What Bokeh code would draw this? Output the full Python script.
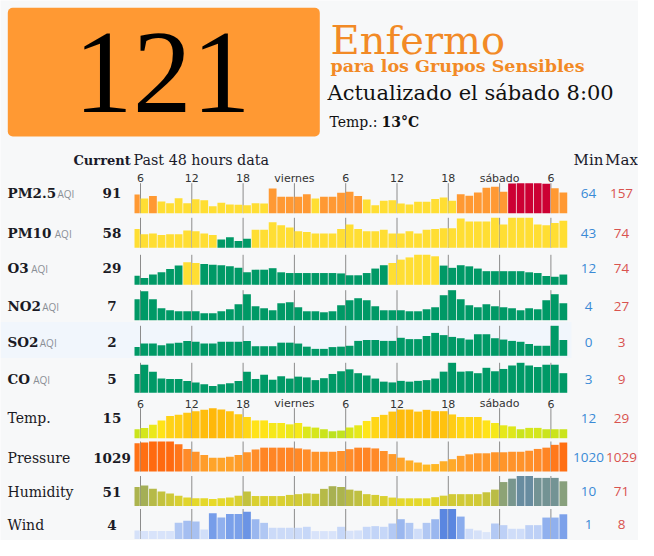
import numpy as np
from bokeh.plotting import figure
from bokeh.models import Range1d
from bokeh.core.properties import value
from bokeh.embed import file_html
from bokeh.resources import INLINE

# ---------------- data ----------------
hours = list(range(5, 56))   # hours since Thursday 00:00; last bar = Saturday 07:00-08:00
tick_hours = [6, 12, 18, 24, 30, 36, 42, 48, 54]
tick_labels = ["6", "12", "18", "viernes", "6", "12", "18", "sábado", "6"]

aqi_now = "121"
status = "Enfermo"
status_sub = "para los Grupos Sensibles"
updated = "Actualizado el sábado 8:00"
temp_label = "Temp.:"
temp_now = "13°C"

row_names = ["PM2.5", "PM10", "O3", "NO2", "SO2", "CO", "Temp.", "Pressure", "Humidity", "Wind"]
row_is_aqi = [True, True, True, True, True, True, False, False, False, False]
current_vals = ["91", "58", "29", "7", "2", "5", "15", "1029", "51", "4"]
min_vals = ["64", "43", "12", "4", "0", "3", "12", "1020", "10", "1"]
max_vals = ["157", "74", "74", "27", "3", "9", "29", "1029", "71", "8"]

pm25 = [111, 95, 105, 83, 76, 96, 76, 92, 88, 64,
        78, 71, 70, 68, 76, 75, 136, 102, 102, 102,
        112, 95, 102, 102, 119, 123, 105, 91, 68, 86,
        88, 75, 71, 82, 82, 93, 99, 86, 112, 106,
        120, 139, 143, 123, 156, 157, 157, 157, 155, 137,
        120]
pm10 = [59, 52, 53, 51, 52, 52, 57, 56, 53, 51,
        45, 48, 43, 46, 58, 58, 68, 64, 61, 56,
        55, 53, 53, 53, 59, 65, 59, 56, 56, 58,
        53, 53, 56, 53, 58, 59, 60, 60, 73, 69,
        69, 69, 74, 65, 74, 74, 74, 65, 64, 67,
        70]
o3 = [18, 12, 21, 27, 36, 45, 54, 52, 49, 47,
      46, 43, 39, 27, 34, 34, 38, 27, 25, 25,
      25, 25, 25, 25, 24, 19, 19, 25, 37, 46,
      52, 61, 67, 74, 74, 70, 45, 39, 46, 43,
      37, 30, 30, 30, 30, 30, 27, 25, 17, 15,
      21]
no2 = [18, 26, 18, 9, 7, 6, 6, 6, 4, 4,
       6, 8, 13, 23, 11, 9, 7, 14, 15, 10,
       6, 6, 5, 6, 12, 17, 19, 17, 11, 7,
       7, 7, 6, 6, 8, 10, 22, 27, 18, 12,
       10, 13, 11, 10, 9, 7, 9, 8, 17, 23,
       14]
so2 = [0.6, 1.0, 1.0, 0.8, 1.0, 1.1, 1.3, 1.2, 1.0, 1.0,
       1.2, 1.2, 1.2, 1.3, 0.7, 0.7, 0.7, 1.1, 1.1, 1.0,
       0.65, 0.4, 0.4, 0.6, 0.65, 0.75, 1.3, 1.4, 1.4, 1.3,
       1.3, 1.65, 1.5, 1.5, 1.85, 2.2, 1.95, 1.75, 1.6, 1.45,
       2.05, 2.05, 1.6, 1.45, 1.3, 1.2, 0.95, 0.75, 0.75, 3.0,
       1.4]
co = [6.1, 8.5, 6.7, 4.9, 4.8, 4.8, 4.3, 3.9, 3.4, 3.0,
      3.4, 3.7, 4.3, 6.7, 4.8, 5.9, 4.6, 5.5, 4.9, 5.4,
      5.2, 4.5, 5.0, 6.1, 6.8, 7.3, 6.3, 5.7, 4.9, 4.1,
      3.9, 4.3, 4.1, 4.3, 4.5, 4.9, 6.7, 9.0, 6.7, 6.8,
      6.3, 7.7, 6.8, 7.4, 8.3, 9.0, 8.3, 7.9, 8.5, 8.5,
      6.3]
temp = [13.5, 14.5, 16.9, 20.0, 23.2, 24.1, 25.6, 26.8, 27.8, 29.0,
        28.0, 26.8, 24.6, 22.5, 20.0, 20.0, 18.1, 18.1, 17.1, 18.1,
        15.4, 14.7, 13.5, 12.0, 12.5, 14.8, 16.4, 19.6, 22.5, 24.1,
        26.5, 28.0, 28.0, 26.5, 27.8, 26.8, 26.8, 24.4, 22.5, 22.5,
        22.5, 20.0, 18.1, 16.4, 15.6, 13.5, 14.5, 14.5, 13.5, 13.5,
        13.5]
pressure = [1028.3, 1028.6, 1029.0, 1029.0, 1029.0, 1027.9, 1026.1, 1025.0, 1023.7, 1022.7,
            1022.7, 1023.1, 1023.7, 1024.8, 1025.9, 1026.6, 1026.6, 1026.6, 1026.6, 1026.3,
            1025.9, 1025.0, 1025.0, 1025.0, 1025.3, 1026.0, 1026.6, 1026.6, 1026.3, 1025.3,
            1024.1, 1022.7, 1021.6, 1020.8, 1020.0, 1020.2, 1021.3, 1022.1, 1023.4, 1024.0,
            1024.4, 1024.4, 1024.8, 1024.8, 1025.0, 1025.0, 1025.4, 1026.1, 1026.6, 1027.7,
            1028.6]
humidity = [42, 46, 37, 30, 25, 19, 14, 12, 12, 10,
            12, 14, 19, 30, 18, 18, 18, 18, 21, 23,
            25, 24, 37, 44, 42, 35, 32, 23, 21, 18,
            14, 12, 12, 12, 12, 15, 19, 23, 23, 23,
            23, 28, 35, 55, 64, 71, 71, 66, 66, 66,
            57]
wind = [1.5, 1.3, 1.3, 1.3, 1.3, 3.8, 4.4, 4.2, 1.8, 6.7,
        5.4, 6.5, 6.5, 7.2, 4.9, 3.8, 2.3, 2.3, 2.3, 2.3,
        2.6, 1.3, 1.3, 1.3, 2.6, 1.4, 1.5, 2.6, 2.8, 2.6,
        3.6, 4.9, 3.8, 2.0, 3.8, 4.9, 8.0, 8.0, 5.7, 2.0,
        1.5, 1.0, 3.6, 3.1, 2.0, 2.0, 3.1, 3.1, 5.4, 5.4,
        6.4]

series = [pm25, pm10, o3, no2, so2, co, temp, pressure, humidity, wind]

# ---------------- styles / layout ----------------
W, H = 638, 540
BG = "#f7f8f9"
PPH = 8.55            # pixels per hour
HOUR6_PX = 140.0      # pixel position of the first "6" tick
PANEL_START_H = 5.3   # left edge of the sparkline panel (hours)
ROW_H = 30.0          # sparkline height in pixels
TEXT_SHIFT = 0.35     # em correction so that y is the text baseline
bar_base = [212.7, 247.3, 284.3, 319.7, 355.3, 392.3, 437.7, 471.0, 505.5, 538.5]
label_base = [197.3, 237.5, 272.7, 310.7, 346.7, 383.3, 422.7, 462.0, 496.0, 529.0]
aqi_x = [57.0, 54.3, 30.7, 41.7, 39.3, 32.7]
MIN_X, MAX_X = 588, 621
SERIF = value("DejaVu Serif")
SANS = value("Open Sans")

def aqi_color(v):
    if v <= 50:
        return "#009966"
    if v <= 100:
        return "#ffde33"
    if v <= 150:
        return "#ff9933"
    return "#cc0033"

def ramp(stops):
    xs = [s[0] for s in stops]
    cs = np.array([s[1] for s in stops], dtype=float)
    def f(v):
        rgb = [np.interp(v, xs, cs[:, i]) for i in range(3)]
        return "#%02x%02x%02x" % tuple(int(round(c)) for c in rgb)
    return f

temp_color = ramp([(12, (188, 226, 30)), (16, (226, 232, 26)), (19, (255, 232, 25)),
                   (24, (255, 206, 22)), (29, (255, 184, 10))])
press_color = ramp([(1020, (255, 184, 36)), (1023, (255, 162, 42)), (1026, (255, 140, 42)),
                    (1029, (255, 106, 16))])
hum_color = ramp([(10, (232, 218, 40)), (25, (205, 200, 56)), (45, (166, 176, 82)),
                  (57, (136, 160, 125)), (71, (104, 140, 160))])
wind_color = ramp([(1, (220, 230, 250)), (2.5, (200, 216, 248)), (4, (172, 196, 242)),
                   (6.5, (122, 160, 234)), (8, (90, 134, 224))])
row_color = [aqi_color] * 6 + [temp_color, press_color, hum_color, wind_color]

p = figure(width=W, height=H, x_range=Range1d(0, W), y_range=Range1d(H, 0),
           output_backend="svg", toolbar_location=None, min_border=0,
           x_axis_location=None, y_axis_location=None,
           background_fill_color=BG, border_fill_color=BG, outline_line_color=None)
p.xgrid.grid_line_color = None
p.ygrid.grid_line_color = None

p.extra_x_ranges = {"hours": Range1d(6 - HOUR6_PX / PPH, 6 + (W - HOUR6_PX) / PPH)}
yr = {}
row_lims = []
for k, vals in enumerate(series):
    hi = max(vals)
    mn = min(vals)
    lo = mn - 0.3 * (hi - mn)
    u = (hi - lo) / ROW_H
    b = bar_base[k]
    yr["r%d" % k] = Range1d(lo - (H - b) * u, lo + b * u)
    row_lims.append((lo, hi))
p.extra_y_ranges = yr

# highlighted row band (SO2)
p.quad(left=[0], right=[571], top=[321.5], bottom=[357.5], fill_color="#f1f6fc", line_color=None)

# header box
p.quad(left=[7.3], right=[319.3], top=[7.3], bottom=[136], fill_color="#ff9933", line_color=None,
       border_radius=5)

def px(size):
    return float(size.replace("px", ""))

def txt(x, y, s, size, font=SERIF, style="normal", color="#1e1e1e", align="left", **kw):
    xs = x if isinstance(x, list) else [x]
    ys = y if isinstance(y, list) else [y]
    ys = [v - TEXT_SHIFT * px(size) for v in ys]
    p.text(x=xs, y=ys, text=s if isinstance(s, list) else [s], text_font=font,
           text_font_size=size, text_font_style=style, text_color=color, text_align=align,
           text_baseline="alphabetic", **kw)

txt(161.7, 113.3, aqi_now, "118px", font=value("Liberation Serif"), color="#000000", align="center")
txt(330, 53, status, "40px", color="#f28a26")
txt(330, 72, status_sub, "17.5px", style="bold", color="#f28a26")
txt(327, 100, updated, "21px", color="#111111")
txt(329, 126, temp_label, "14px", color="#111111")
txt(381, 126, temp_now, "14px", style="bold", color="#111111")

# table header
txt(73, 165, "Current", "13px", style="bold", color="#1a1a2a")
txt(133, 165, "Past 48 hours data", "14.3px", color="#1a1a2a")
txt(MIN_X, 165, "Min", "15px", color="#1a1a2a", align="center")
txt(MAX_X, 165, "Max", "15px", color="#1a1a2a", align="center")

# tick labels
for yb in (181.7, 407.0):
    txt(tick_hours, [yb] * len(tick_hours), tick_labels, "11px", font=value("DejaVu Sans"),
        color="#333333", align="center", x_range_name="hours")

hours_arr = np.array(hours, dtype=float)
lefts = np.maximum(hours_arr, PANEL_START_H)
rights = hours_arr + 0.91

for k, vals in enumerate(series):
    lo, hi = row_lims[k]
    rn = "r%d" % k
    # vertical tick lines behind bars
    p.segment(x0=tick_hours, x1=tick_hours, y0=[lo] * len(tick_hours), y1=[hi] * len(tick_hours),
              x_range_name="hours", y_range_name=rn, line_color="#8c8c8c", line_width=1)
    cols = [row_color[k](v) for v in vals]
    p.quad(left=lefts, right=rights, bottom=[lo] * len(vals), top=vals, fill_color=cols,
           line_color=None, x_range_name="hours", y_range_name=rn)

    yb = label_base[k]
    if row_is_aqi[k]:
        txt(7, yb, row_names[k], "13.5px", style="bold", color="#1a1a24")
        txt(aqi_x[k], yb - 0.5, "AQI", "10px", font=SANS, color="#8a8f96")
    else:
        txt(7, yb, row_names[k], "14px", color="#1a1a24")
    txt(111.5, yb, current_vals[k], "13.5px", style="bold", color="#1a1a24", align="center")
    txt(MIN_X, yb, min_vals[k], "13.5px", font=SANS, color="#3a8ad6", align="center")
    txt(MAX_X, yb, max_vals[k], "13.5px", font=SANS, color="#d9534f", align="center")

open("out.html", "w").write(file_html(p, INLINE))
